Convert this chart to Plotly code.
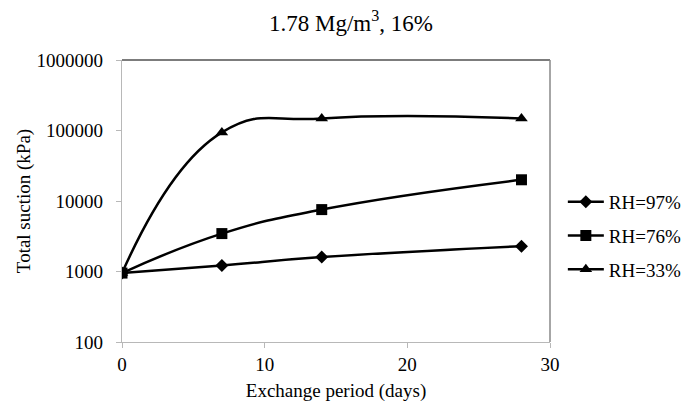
import plotly.graph_objects as go

days = [0, 7, 14, 28]
rh97 = [950, 1215, 1600, 2290]
rh76 = [950, 3450, 7550, 20000]
rh33 = [950, 94000, 148000, 148000]
series_names = ["RH=97%", "RH=76%", "RH=33%"]
y_ticks = [100, 1000, 10000, 100000, 1000000]
x_ticks = [0, 10, 20, 30]

font = "Liberation Serif, Times New Roman, serif"

fig = go.Figure()
for name, vals, sym, size in zip(series_names, [rh97, rh76, rh33],
                                 ["diamond", "square", "triangle-up"], [10, 11, 11]):
    fig.add_trace(go.Scatter(
        x=days, y=vals, name=name, mode="lines+markers",
        line=dict(color="black", width=2.5, shape="spline", smoothing=1.3),
        marker=dict(symbol=sym, size=size, color="black"),
        legendgroup=name,
    ))

# page has an 8px body margin: figure is shrunk/shifted to compensate
fig.update_layout(
    width=686, height=398,
    margin=dict(l=114, r=144, t=52, b=64, autoexpand=False),
    paper_bgcolor="white", plot_bgcolor="white",
    font=dict(family=font, size=19, color="black"),
    title=dict(text="1.78 Mg/m<sup>3</sup>, 16%", x=0.5, xanchor="center",
               y=(398 - 15) / 398, yanchor="middle", font=dict(size=23, family=font)),
    showlegend=True,
    legend=dict(x=1.03, xanchor="left", y=0.376, yanchor="middle",
                traceorder="grouped", tracegroupgap=6, itemwidth=36,
                font=dict(size=19, family=font), bgcolor="rgba(0,0,0,0)"),
)
fig.update_xaxes(
    range=[0, 30], tickvals=x_ticks, ticktext=[str(v) for v in x_ticks],
    showgrid=False, zeroline=False, automargin=False,
    showline=True, linecolor="#b8b8b8", linewidth=1.3,
    ticks="outside", ticklen=5, tickcolor="#b8b8b8", ticklabelstandoff=0,
    title=dict(text="Exchange period (days)", font=dict(size=19, family=font), standoff=9),
    tickfont=dict(size=19, family=font),
)
fig.update_yaxes(
    type="log", range=[2, 6], tickvals=y_ticks, ticktext=[str(v) for v in y_ticks],
    showgrid=False, zeroline=False, automargin=False,
    showline=True, linecolor="#b8b8b8", linewidth=1.3,
    ticks="outside", ticklen=5, tickcolor="#b8b8b8", ticklabelstandoff=9,
    title=dict(text="Total suction (kPa)", font=dict(size=19, family=font), standoff=0),
    tickfont=dict(size=19, family=font),
)
# top and right frame lines of plot area
fig.add_shape(type="line", xref="paper", yref="paper", x0=0, x1=1, y0=1, y1=1,
              line=dict(color="#505050", width=1.5))
fig.add_shape(type="line", xref="paper", yref="paper", x0=1, x1=1, y0=0, y1=1,
              line=dict(color="#888888", width=1.5))

fig.write_html("out.html")
